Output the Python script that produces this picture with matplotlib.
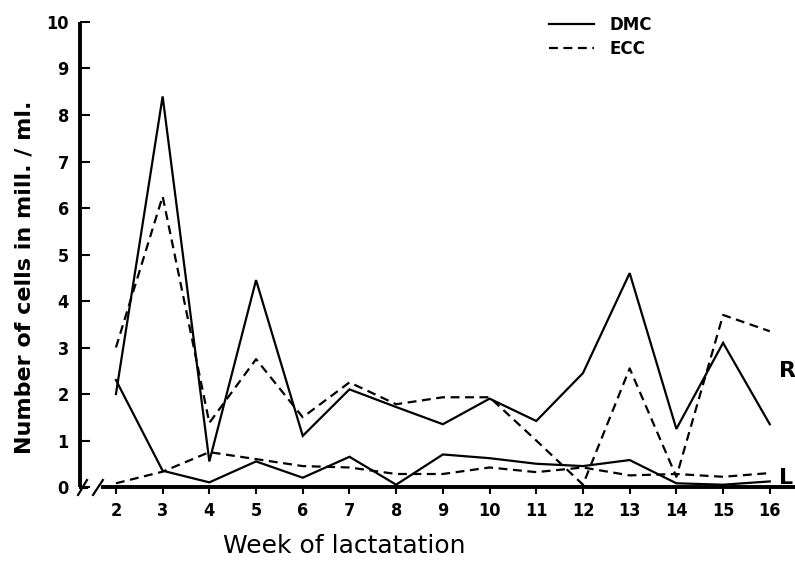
import matplotlib
matplotlib.use('Agg')
import matplotlib.pyplot as plt
from matplotlib.lines import Line2D

# Weeks and cell counts (mill./ml)
weeks = [2, 3, 4, 5, 6, 7, 8, 9, 10, 11, 12, 13, 14, 15, 16]
r_dmc = [2.0, 8.4, 0.55, 4.45, 1.1, 2.1, 1.72, 1.35, 1.9, 1.42, 2.45, 4.6, 1.25, 3.1, 1.35]
r_ecc = [3.0, 6.25, 1.38, 2.75, 1.5, 2.25, 1.78, 1.93, 1.93, 1.0, 0.05, 2.55, 0.22, 3.7, 3.35]
l_dmc = [2.3, 0.35, 0.1, 0.55, 0.2, 0.65, 0.05, 0.7, 0.62, 0.5, 0.45, 0.58, 0.08, 0.05, 0.12]
l_ecc = [0.08, 0.33, 0.75, 0.6, 0.45, 0.42, 0.28, 0.28, 0.42, 0.32, 0.42, 0.25, 0.28, 0.22, 0.3]
y_ticks = list(range(0, 11))

narrow = ['Liberation Sans Narrow', 'DejaVu Sans']
dash = (0, (4, 2.5))

fig = plt.figure(figsize=(7.95, 5.64), dpi=100)
ax = fig.add_axes([0.1006, 0.1365, 0.8994, 0.8245])

# the four curves
ax.plot(weeks, r_dmc, color='black', lw=1.6, solid_joinstyle='miter')
ax.plot(weeks, r_ecc, color='black', lw=1.6, linestyle=dash)
ax.plot(weeks, l_dmc, color='black', lw=1.6, solid_joinstyle='miter')
ax.plot(weeks, l_ecc, color='black', lw=1.6, linestyle=dash)

ax.set_xlim(1.23, 16.54)
ax.set_ylim(0, 10)

# axes look
ax.spines['top'].set_visible(False)
ax.spines['right'].set_visible(False)
ax.spines['left'].set_linewidth(2.8)
ax.spines['bottom'].set_linewidth(2.8)
ax.spines['bottom'].set_bounds(1.72, 16.54)
ax.spines['left'].set_capstyle('butt')

ax.set_xticks(weeks)
ax.set_yticks(y_ticks)
ax.tick_params(axis='x', direction='out', length=5, width=1.5, pad=6)
ax.tick_params(axis='y', direction='in', length=7, width=1.5, pad=8)
for lab in ax.get_xticklabels() + ax.get_yticklabels():
    lab.set_family(narrow)
    lab.set_fontweight('bold')
    lab.set_fontsize(13)
    lab.set_stretch('condensed')

# axis break marks
ax.plot([1.23, 1.36], [0, 0], color='black', lw=2.2, clip_on=False)
ax.plot([1.19, 1.38], [-0.17, 0.15], color='black', lw=1.6, clip_on=False)
ax.plot([1.51, 1.72], [-0.17, 0.15], color='black', lw=1.6, clip_on=False)

ax.set_ylabel('Number of cells in mill. / ml.', fontsize=16, fontweight='bold')
ax.yaxis.set_label_coords(-0.063, 0.45)
ax.set_xlabel('Week of lactatation', fontsize=18, fontweight='medium')
ax.xaxis.set_label_coords(0.37, -0.102)

# R / L markers
ax.text(16.2, 2.5, 'R', fontsize=16, fontweight='bold', va='center', ha='left', clip_on=False)
ax.text(16.2, 0.2, 'L', fontsize=16, fontweight='bold', va='center', ha='left', clip_on=False)

# legend
handles = [Line2D([], [], color='black', lw=1.6),
           Line2D([], [], color='black', lw=1.6, linestyle=dash)]
ax.legend(handles, ['DMC', 'ECC'], loc='upper left', bbox_to_anchor=(0.635, 1.045),
          frameon=False, handlelength=2.7, handletextpad=0.9, labelspacing=0.35,
          prop={'size': 12, 'weight': 'bold'})

fig.savefig('out.png', dpi=100)
